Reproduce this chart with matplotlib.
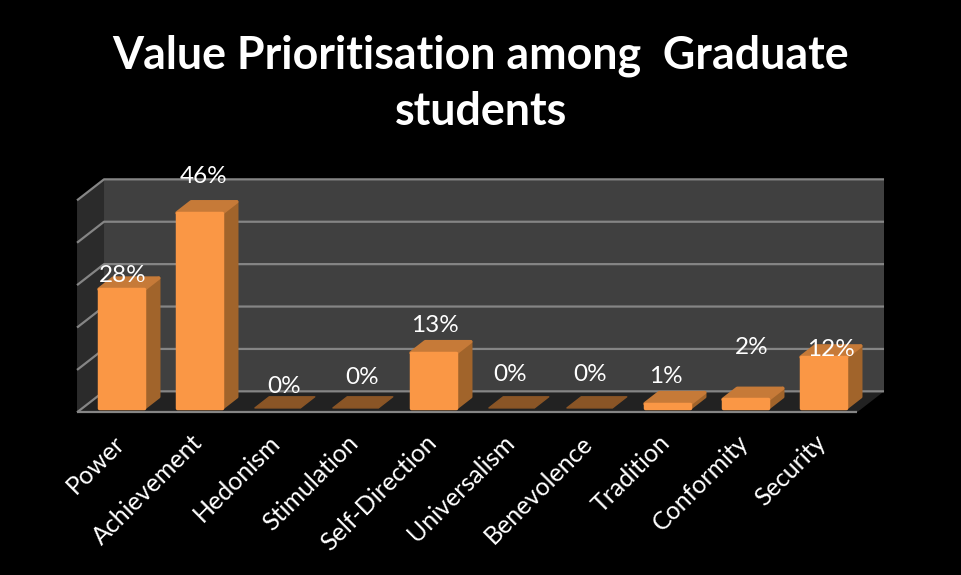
import matplotlib.pyplot as plt
from matplotlib.patches import Polygon
from matplotlib.transforms import ScaledTranslation

W, H = 961, 575

categories = ['Power', 'Achievement', 'Hedonism', 'Stimulation', 'Self-Direction',
              'Universalism', 'Benevolence', 'Tradition', 'Conformity', 'Security']
percent = [28, 46, 0, 0, 13, 0, 0, 1, 2, 12]
grid_levels = [0, 10, 20, 30, 40, 50]

# hand placed data labels, pixels away from the top of each bar
label_dx = [0, 3, 6, 6, 0, -2, 0, -3, 5, 6]
label_dy = [13, 36, 21, 30, 27, 33, 33, 27, 51, 7]

FRONT = '#FA9745'
TOP = '#C67A38'
SIDE = '#A1642B'
FLAT = '#8A5526'
GRID = '#858585'

plt.rcParams['font.family'] = ['Lato', 'DejaVu Sans']

fig = plt.figure(figsize=(W / 100, H / 100), dpi=100, facecolor='black')
# axes sit on the front plane of the bars
ax = fig.add_axes([83.5 / W, 1 - 407.3 / H, 780 / W, 212 / H])
ax.set_facecolor('none')
ax.set_xlim(-0.5, 9.5)
ax.set_ylim(0, 50)

PX_X = 78.0      # pixels per category
PX_Y = 212 / 50  # pixels per percent


def pt(x, v, z):
    # fake 3d: z is depth, shifts up and to the right
    return (x + z * 27 / PX_X, v + z * 21 / PX_Y)


def face(points, color, zorder, edge=None, lw=0.0):
    ax.add_patch(Polygon([pt(*p) for p in points], closed=True, facecolor=color,
                         edgecolor=edge or color, linewidth=lw, joinstyle='round',
                         clip_on=False, zorder=zorder))


x0, x1 = -0.5, 9.5
z_front, z_back = -0.24, 0.76

# walls and floor
face([(x0, 0, z_back), (x1, 0, z_back), (x1, 50, z_back), (x0, 50, z_back)], '#404040', 1)
face([(x0, 0, z_front), (x0, 0, z_back), (x0, 50, z_back), (x0, 50, z_front)], '#2B2B2B', 1)
face([(x0, 0, z_front), (x1, 0, z_front), (x1, 0, z_back), (x0, 0, z_back)], '#222222', 1)

for g in grid_levels:
    line = [pt(x0, g, z_front), pt(x0, g, z_back), pt(x1, g, z_back)]
    ax.plot([p[0] for p in line], [p[1] for p in line], color=GRID, lw=1.6,
            clip_on=False, zorder=2, solid_capstyle='butt')
ax.plot([x0 + z_front * 27 / PX_X, x1 + z_front * 27 / PX_X], [z_front * 21 / PX_Y] * 2,
        color=GRID, lw=1.6, clip_on=False, zorder=2, solid_capstyle='butt')

# bars, left to right so the side faces overlap properly
half = 0.5 * 45.5 / PX_X
z_a, z_b = -0.03, 0.5
for i, v in enumerate(percent):
    l, r = i - half, i + half
    if v == 0:
        face([(l, 0, z_a), (r, 0, z_a), (r, 0, z_b), (l, 0, z_b)], FLAT, 3, lw=1.0)
        continue
    face([(r, 0, z_a), (r, 0, z_b), (r, v, z_b), (r, v, z_a)], SIDE, 3, lw=2.5)
    face([(l, v, z_a), (r, v, z_a), (r, v, z_b), (l, v, z_b)], TOP, 3, lw=2.5)
    face([(l, 0, z_a), (r, 0, z_a), (r, v, z_a), (l, v, z_a)], FRONT, 4, lw=2.5)

for i, v in enumerate(percent):
    ax.annotate(f'{v}%', (i, v), xytext=(label_dx[i], label_dy[i]), textcoords='offset pixels',
                ha='center', va='center', color='white', fontsize=17.5, zorder=6,
                annotation_clip=False)

ax.set_xticks(range(len(categories)))
ax.set_xticklabels(categories, rotation=45, ha='right', va='top', rotation_mode='anchor',
                   color='white', fontsize=18)
ax.tick_params(axis='x', length=0, pad=17)
shift = ScaledTranslation(-10 / 100, 0, fig.dpi_scale_trans)
for lab in ax.get_xticklabels():
    lab.set_transform(lab.get_transform() + shift)
ax.set_yticks([])
for s in ax.spines.values():
    s.set_visible(False)

fig.text(481 / W, 1 - 84 / H, 'Value Prioritisation among  Graduate\nstudents', color='white',
         fontsize=32.2, fontweight='bold', ha='center', va='center', linespacing=1.4)

fig.savefig('out.png', dpi=100, facecolor='black')
